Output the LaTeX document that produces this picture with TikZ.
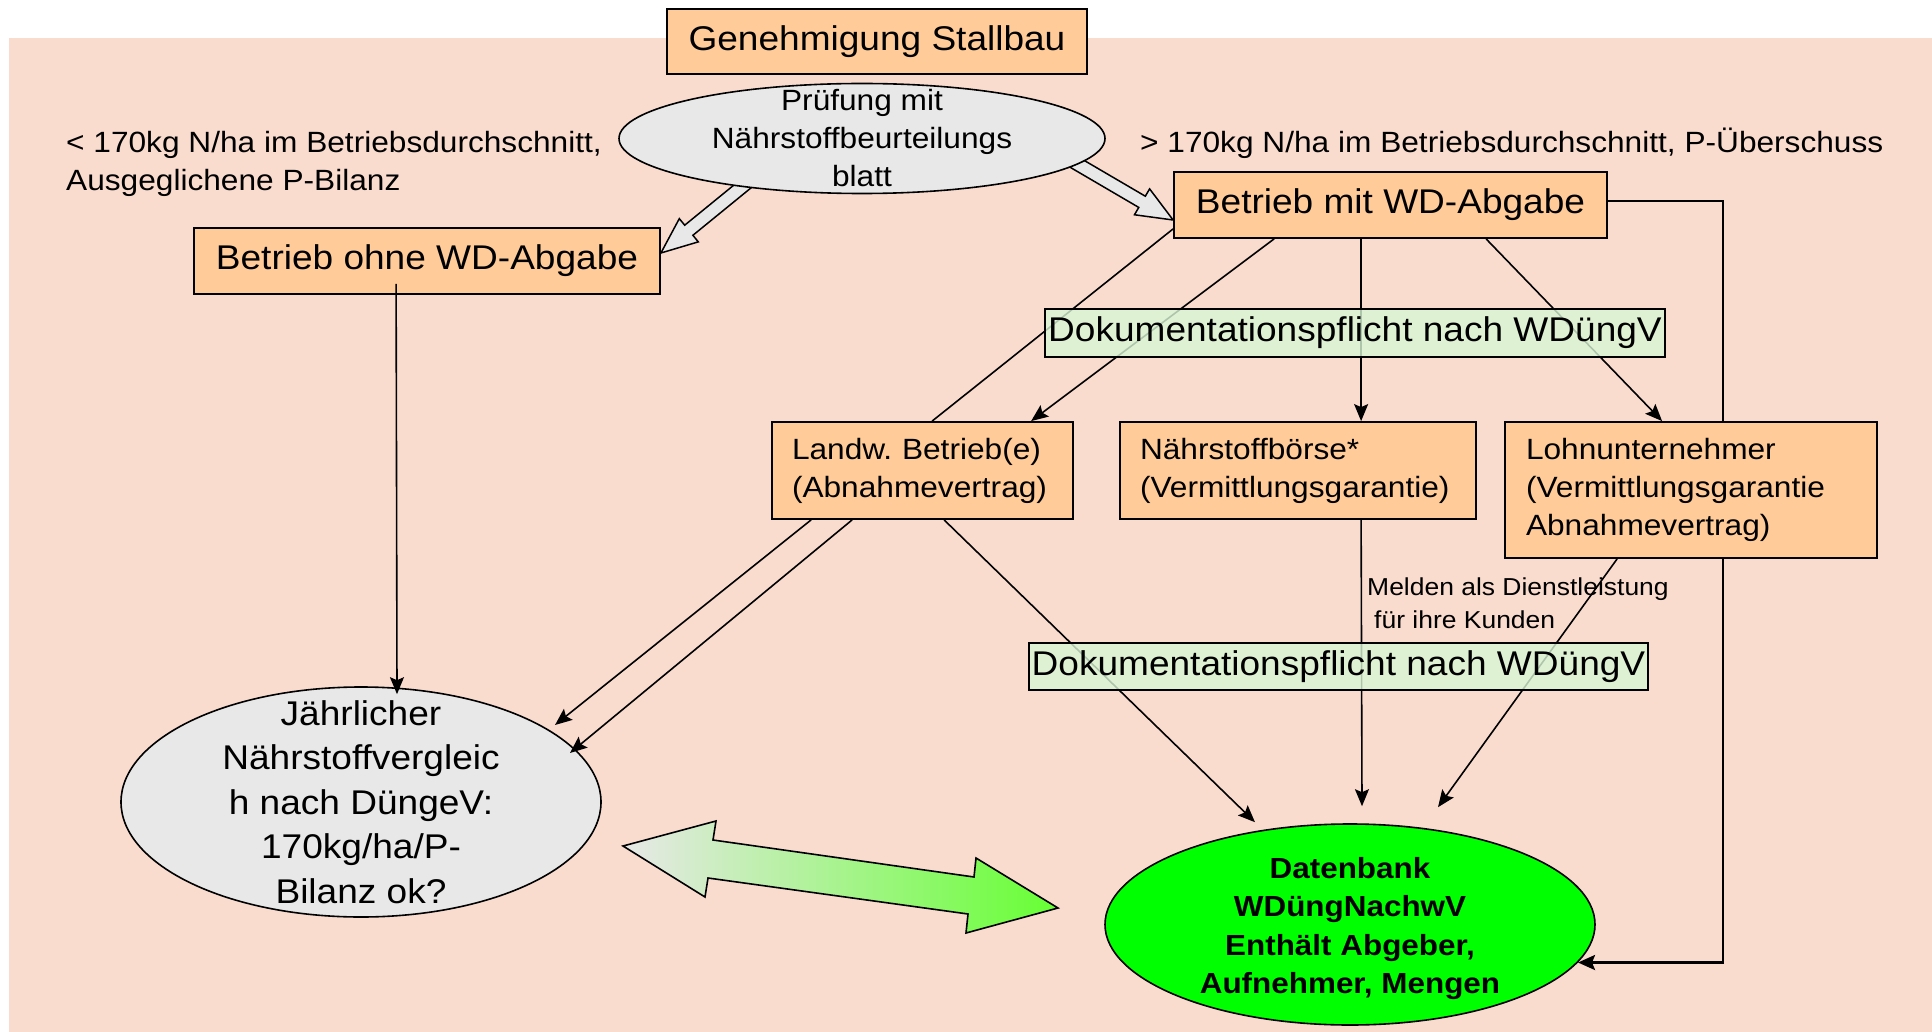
\documentclass[tikz,border=0pt]{standalone}
\usepackage{fontspec}
\setmainfont{Liberation Sans}[FakeStretch=1.08]
\usetikzlibrary{shapes.geometric,arrows.meta,calc}
\frenchspacing
\definecolor{pinkbg}{RGB}{250,220,207}
\definecolor{orangebox}{RGB}{255,204,153}
\definecolor{greyell}{RGB}{232,232,232}
\definecolor{dokugreen}{RGB}{217,247,213}
\definecolor{dbgreen}{RGB}{0,255,0}
\definecolor{gradleft}{RGB}{232,232,232}
\definecolor{gradright}{RGB}{102,255,51}
\pgfdeclarelayer{back}
\pgfdeclarelayer{mid}
\pgfsetlayers{back,mid,main}
\tikzset{
  big/.style={font={\fontsize{34.3}{40}\selectfont}},
  med/.style={font={\fontsize{29.3}{38}\selectfont}},
  smalltxt/.style={font={\fontsize{24.5}{33}\selectfont}},
  box/.style={draw, line width=1.8pt, fill=orangebox, inner sep=0pt},
  ell/.style={draw, ellipse, line width=1.6pt, fill=greyell, inner sep=0pt},
  dokubox/.style={draw, line width=1.6pt, fill=dokugreen, fill opacity=0.8, text opacity=1, inner sep=0pt, big},
  conn/.style={line width=1.6pt, -{Stealth[length=17pt,width=14pt,inset=3pt]}},
  plainline/.style={line width=1.6pt},
  thickconn/.style={line width=2.6pt, -{Stealth[length=17pt,width=15pt,inset=3pt]}},
  hollowarr/.style={draw, line width=1.5pt, fill=greyell, line join=miter},
}
\newcommand\myhollow[2]{%
  \coordinate (ha) at (#1);
  \coordinate (hb) at (#2);
  \coordinate (hm) at ($(hb)!36pt!(ha)$);
  \draw[hollowarr] ($(ha)!6.5pt!90:(hb)$) -- ($(hm)!6.5pt!90:(hb)$) -- ($(hm)!15pt!90:(hb)$) -- (hb) -- ($(hm)!15pt!-90:(hb)$) -- ($(hm)!6.5pt!-90:(hb)$) -- ($(ha)!6.5pt!-90:(hb)$) -- cycle;
}
\begin{document}
\begin{tikzpicture}[x=1pt,y=-1pt]
\useasboundingbox (0,0) rectangle (1932,1032);
\begin{pgfonlayer}{back}
  \fill[white] (0,0) rectangle (1932,1032);
  \fill[pinkbg] (9,38) rectangle (1932,1032);
\end{pgfonlayer}

% nodes
\node[box, big, minimum width=420pt, minimum height=65pt] (gen) at (877,41.5) {Genehmigung Stallbau};
\node[ell, minimum width=486pt, minimum height=110pt] (pruef) at (862,138.5) {};
\node[med, align=center, inner sep=0pt] (pruefT) at (pruef.center) {Prüfung mit\\Nährstoffbeurteilungs\\blatt};

\node[med, align=left, anchor=west, inner sep=0pt] (condL) at (66,164) {< 170kg N/ha im Betriebsdurchschnitt,\\Ausgeglichene P-Bilanz};
\node[med, anchor=west, inner sep=0pt] (condR) at (1140,143) {> 170kg N/ha im Betriebsdurchschnitt, P-Überschuss};

\node[box, big, minimum width=466pt, minimum height=66pt] (ohne) at (427,261) {Betrieb ohne WD-Abgabe};
\node[box, big, minimum width=433pt, minimum height=66pt] (mit) at (1390.5,205) {Betrieb mit WD-Abgabe};

\node[box, med, minimum width=301pt, minimum height=97pt, text width=261pt, align=left] (landw) at (922.5,470.5) {Landw. Betrieb(e)\\(Abnahmevertrag)};
\node[box, med, minimum width=356pt, minimum height=97pt, text width=316pt, align=left] (boerse) at (1298,470.5) {Nährstoffbörse*\\(Vermittlungsgarantie)};
\node[box, med, minimum width=372pt, minimum height=136pt, text width=330pt, align=left] (lohn) at (1691,490) {Lohnunternehmer\\(Vermittlungsgarantie\\Abnahmevertrag)};

\node[ell, minimum width=480pt, minimum height=230pt] (jaehr) at (361,802) {};
\node[font={\fontsize{34.3}{44.5}\selectfont}, align=center, inner sep=0pt] (jaehrT) at (jaehr.center) {Jährlicher\\Nährstoffvergleic\\h nach DüngeV:\\170kg/ha/P-\\Bilanz ok?};

\node[ell, fill=dbgreen, minimum width=490pt, minimum height=201pt] (db) at (1350,924.5) {};
\node[font={\fontsize{29.1}{38.5}\selectfont\bfseries}, align=center, inner sep=0pt] (dbT) at ([yshift=-4pt]db.center) {Datenbank\\WDüngNachwV\\Enthält Abgeber,\\Aufnehmer, Mengen};

% hollow arrows and thick right connector behind nodes
\begin{pgfonlayer}{mid}
  \myhollow{[xshift=-111pt,yshift=-41pt]pruef.center}{[yshift=8pt]ohne.east}
  \myhollow{[xshift=206pt,yshift=-20pt]pruef.center}{[yshift=-15pt]mit.west}
  \draw[thickconn] ([yshift=4pt]mit.east) -- ++(115,0) |- ([xshift=228pt,yshift=-38pt]db.center);
\end{pgfonlayer}

% connectors
\draw[plainline] ([yshift=10pt]mit.south west) -- ([xshift=161pt]landw.north west);
\draw[conn] ([xshift=101pt]mit.south west) -- ([xshift=260pt]landw.north west);
\draw[conn] ([xshift=188pt]mit.south west) -- ([xshift=242pt]boerse.north west);
\draw[conn] ([xshift=313pt]mit.south west) -- ([xshift=158pt]lohn.north west);
\draw[conn] ([xshift=203pt,yshift=11pt]ohne.south west) -- ([xshift=36pt,yshift=-8pt]jaehr.north);
\draw[conn] ([xshift=40pt]landw.south west) -- ([xshift=194pt,yshift=77pt]jaehr.center);
\draw[conn] ([xshift=81pt]landw.south west) -- ([xshift=209pt,yshift=49pt]jaehr.center);
\draw[conn] ([xshift=173pt]landw.south west) -- ([xshift=-95pt,yshift=1pt]db.north);
\draw[conn] ([xshift=242pt]boerse.south west) -- ([xshift=12pt,yshift=17pt]db.north);
\draw[conn] ([xshift=113pt]lohn.south west) -- ([xshift=88pt,yshift=16pt]db.north);

% documentation boxes (semi-transparent, over the lines)
\node[dokubox, minimum width=620pt, minimum height=48pt] (doku1) at (1355,333) {Dokumentationspflicht nach WDüngV};
\node[dokubox, minimum width=619pt, minimum height=47pt] (doku2) at (1338.5,666.5) {Dokumentationspflicht nach WDüngV};

\node[smalltxt, align=left, anchor=west, inner sep=0pt] (melden) at (1367,603.5) {Melden als Dienstleistung\\\hspace*{7pt}für ihre Kunden};

% gradient double arrow
\draw[line width=1.6pt, line join=miter, left color=gradleft, right color=gradright]
  (623,846) -- (716,821) -- (713,840) -- (974,877) -- (976,858) -- (1058,908)
  -- (966,933) -- (968,914) -- (708,878) -- (705,897) -- cycle;
\end{tikzpicture}
\end{document}
